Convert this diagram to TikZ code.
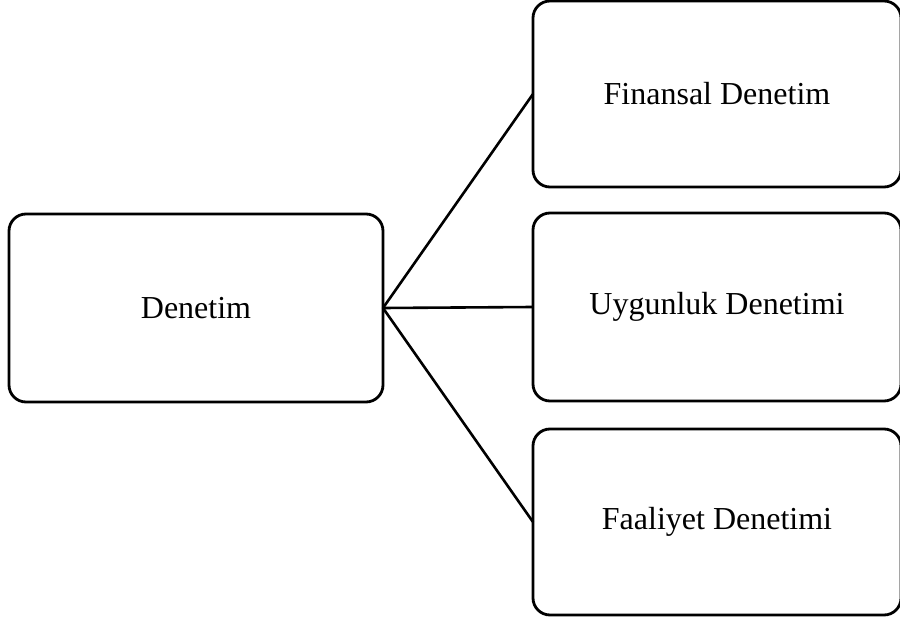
\documentclass[tikz,border=0pt]{standalone}
\usepackage{fontspec}
\setmainfont{Liberation Serif}
\begin{document}
\begin{tikzpicture}[x=1pt,y=-1pt,
  box/.style={draw=black, line width=2.8pt, rounded corners=17pt, inner sep=0pt, outer sep=0pt,
    minimum width=#1, align=center, font=\fontsize{32}{38}\selectfont},
  link/.style={draw=black, line width=2.6pt}]
  \useasboundingbox (0,0) rectangle (900,623);
  % main box on the left
  \node[box=374pt, minimum height=188pt] (main) at (196,308) {Denetim};
  % three sub-types on the right
  \node[box=368pt, minimum height=186pt] (fin) at (717,94) {Finansal Denetim};
  \node[box=368pt, minimum height=188pt] (uyg) at (717,307) {Uygunluk Denetimi};
  \node[box=368pt, minimum height=186pt] (faa) at (717,522) {Faaliyet Denetimi};
  % connectors from the main box to each sub-type
  \draw[link] (main.east) -- (fin.west);
  \draw[link] (main.east) -- (uyg.west);
  \draw[link] (main.east) -- (faa.west);
\end{tikzpicture}
\end{document}
